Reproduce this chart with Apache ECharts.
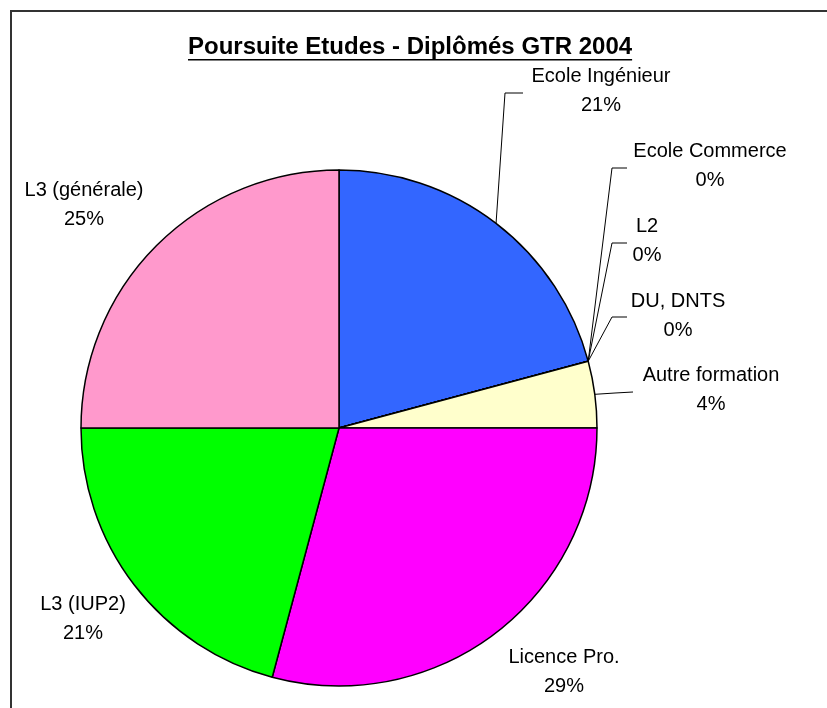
<!DOCTYPE html>
<html>
<head>
<meta charset="utf-8">
<script src="https://cdn.jsdelivr.net/npm/echarts@6/dist/echarts.min.js"></script>
<style>
  html, body { margin: 0; padding: 0; background: #fff; }
  #chart { width: 827px; height: 708px; }
</style>
</head>
<body>
<div id="chart"></div>
<script>
// slices, clockwise from 12 o'clock
const categories = ["Ecole Ingénieur", "Ecole Commerce", "L2", "DU, DNTS", "Autre formation", "Licence Pro.", "L3 (IUP2)", "L3 (générale)"];
const counts = [5, 0, 0, 0, 1, 7, 5, 6];
const sliceColors = ["#3366FF", "#993366", "#FFFFCC", "#CCFFFF", "#FFFFCC", "#FF00FF", "#00FF00", "#FF99CC"];
const titleText = "Poursuite Etudes - Diplômés GTR 2004";

// where each label sits (text centre) and the bends of its leader line
const labelCenters = [[601, 91], [710, 166], [647, 241], [678, 316], [711, 390], [564, 672], [83, 619], [84, 205]];
const leaderBends = [
    [[505, 93], [523, 93]],
    [[612, 168], [627, 168]],
    [[612, 243], [627, 243]],
    [[612, 317], [627, 317]],
    [[615, 393], [633, 392]],
    null,
    null,
    null,
];

const total = counts.reduce((a, b) => a + b, 0);
const pieCenter = [339, 428];
const pieRadius = 258;
const fontFamily = "Liberation Sans, Arial, sans-serif";

// underline under the title, as wide as the title text
const titleFont = "bold 24px " + fontFamily;
const measureCtx = document.createElement("canvas").getContext("2d");
measureCtx.font = titleFont;
const titleWidth = measureCtx.measureText(titleText).width;

const chart = echarts.init(document.getElementById("chart"));

const option = {
    animation: false,
    backgroundColor: "#fff",
    textStyle: { fontFamily },
    graphic: [
        {
            type: "rect",
            shape: { x: 11, y: 11, width: 1000, height: 1000 },
            style: { fill: "none", stroke: "#333", lineWidth: 2 },
            silent: true,
        },
        {
            type: "text",
            left: 188,
            top: 35,
            style: {
                text: titleText,
                fontFamily,
                fontWeight: "bold",
                fontSize: 24,
                fill: "#000",
            },
        },
        {
            type: "rect",
            shape: { x: 188, y: 59, width: titleWidth, height: 1.5 },
            style: { fill: "#000" },
            silent: true,
        },
    ],
    series: [
        {
            type: "pie",
            center: pieCenter,
            radius: pieRadius,
            startAngle: 90,
            clockwise: true,
            avoidLabelOverlap: false,
            minAngle: 0,
            emphasis: { disabled: true },
            itemStyle: { borderColor: "#000", borderWidth: 1.5 },
            label: {
                show: true,
                position: "outside",
                color: "#000",
                fontSize: 20,
                lineHeight: 29,
                align: "center",
                fontFamily,
                formatter: (p) => p.name + "\n" + Math.round((p.value / total) * 100) + "%",
            },
            labelLine: {
                show: true,
                length: 10,
                length2: 10,
                lineStyle: { color: "#000", width: 1 },
            },
            labelLayout: (params) => {
                const i = params.dataIndex;
                const c = labelCenters[i];
                const out = { x: c[0], y: c[1], align: "center", verticalAlign: "middle" };
                if (leaderBends[i]) {
                    let start = params.labelLinePoints && params.labelLinePoints[0];
                    if (!start) {
                        let before = 0;
                        for (let k = 0; k < i; k++) before += counts[k];
                        const mid = ((before + counts[i] / 2) / total) * Math.PI * 2;
                        start = [pieCenter[0] + pieRadius * Math.sin(mid), pieCenter[1] - pieRadius * Math.cos(mid)];
                    }
                    out.labelLinePoints = [start, ...leaderBends[i]];
                }
                return out;
            },
            data: categories.map((name, i) => ({
                name,
                value: counts[i],
                itemStyle: { color: sliceColors[i] },
                labelLine: { show: !!leaderBends[i] },
            })),
        },
    ],
};

chart.setOption(option);
</script>
</body>
</html>
